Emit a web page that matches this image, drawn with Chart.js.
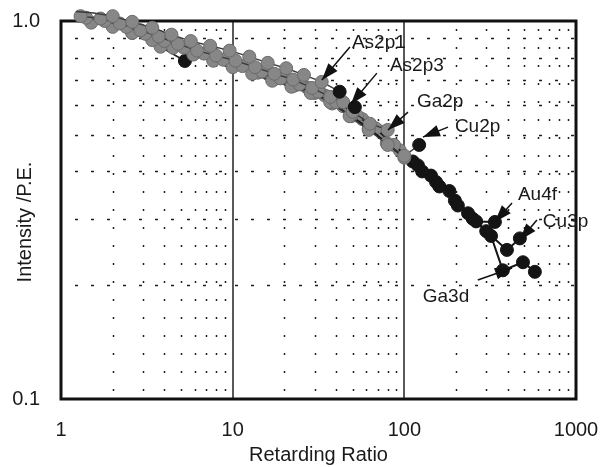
<!DOCTYPE html>
<html>
<head>
<meta charset="utf-8">
<style>
html,body{margin:0;padding:0;background:#fff;}
#wrap{width:611px;height:467px;position:relative;}
</style>
<script src="https://cdn.jsdelivr.net/npm/chart.js@4.4.0/dist/chart.umd.min.js"></script>
</head>
<body>
<div id="wrap"><canvas id="c" width="611" height="467"></canvas></div>
<script>
// ---- axis ticks ----
const xTickValues = [1, 10, 100, 1000];
const xTickText = ['1', '10', '100', '1000'];
const yTickValues = [0.1, 1.0];
const yTickText = ['0.1', '1.0'];
const xMajorGrid = [10, 100];
const xMinorGrid = [2,3,4,5,6,7,8,9,20,30,40,50,60,70,80,90,200,300,400,500,600,700,800,900];
const yMinorGrid = [0.2,0.3,0.4,0.5,0.6,0.7,0.8,0.9];
const xTitle = 'Retarding Ratio';
const yTitle = 'Intensity /P.E.';

// ---- series (retarding ratio, intensity / P.E.) ----
const as2p1X = [1.22, 1.55, 2.0, 2.6, 3.4, 4.4, 5.7, 7.4, 9.6, 12.5, 16, 20.5, 26, 33, 42];
const as2p1Y = [1.06, 1.05, 1.03, 0.995, 0.96, 0.92, 0.885, 0.86, 0.835, 0.805, 0.775, 0.75, 0.72, 0.69, 0.65];

const as2p3X = [1.3, 1.7, 2.2, 2.9, 3.7, 4.8, 6.2, 8.0, 10.4, 13.5, 17.5, 22.5, 29, 37, 44, 51.5];
const as2p3Y = [1.03, 1.015, 0.985, 0.945, 0.91, 0.87, 0.835, 0.81, 0.785, 0.755, 0.725, 0.70, 0.665, 0.63, 0.61, 0.592];

const ga2pX = [1.4, 1.8, 2.4, 3.1, 4.0, 5.2, 6.8, 8.8, 11.4, 14.8, 19, 24.5, 31.5, 40, 50, 63, 80];
const ga2pY = [1.02, 1.0, 0.965, 0.925, 0.885, 0.85, 0.82, 0.79, 0.76, 0.735, 0.705, 0.68, 0.65, 0.61, 0.575, 0.535, 0.515];

const cu2pX = [1.5, 2.0, 2.6, 3.4, 4.5, 5.9, 7.7, 10, 13, 17, 22, 28.5, 37, 48, 62, 80, 100, 122];
const cu2pY = [0.99, 0.965, 0.93, 0.89, 0.85, 0.815, 0.785, 0.755, 0.725, 0.695, 0.67, 0.645, 0.61, 0.56, 0.515, 0.47, 0.44, 0.47];

const branchX = [2.6, 3.8, 5.27];
const branchY = [0.93, 0.855, 0.784];

const au4fX = [14, 18, 23, 30, 38, 49, 62, 79, 100, 127, 160, 205, 262, 337];
const au4fY = [0.73, 0.705, 0.675, 0.645, 0.605, 0.56, 0.52, 0.475, 0.435, 0.40, 0.365, 0.325, 0.295, 0.294];

const cu3pX = [15, 19.5, 25, 32, 41, 53, 68, 87, 112, 143, 183, 235, 300, 396, 471];
const cu3pY = [0.735, 0.71, 0.68, 0.65, 0.61, 0.562, 0.52, 0.47, 0.425, 0.39, 0.355, 0.31, 0.278, 0.248, 0.266];

const ga3dX = [16, 21, 27, 34.5, 44, 57, 73, 94, 120, 153, 197, 250, 320, 375, 491, 576];
const ga3dY = [0.725, 0.698, 0.668, 0.635, 0.595, 0.55, 0.51, 0.455, 0.415, 0.375, 0.335, 0.30, 0.27, 0.219, 0.23, 0.217];

// ---- annotations: label text, text anchor, arrow start, arrow tip (data coords) ----
const annText  = ['As2p1', 'As2p3', 'Ga2p', 'Cu2p', 'Au4f', 'Cu3p', 'Ga3d'];
const annTextX = [49.5, 82.4, 118.4, 197, 459, 641, 128];
const annTextY = [0.875, 0.760, 0.610, 0.524, 0.347, 0.294, 0.186];
const annFromX = [48.2, 69.2, 105, 179.6, 424, 592, 268];
const annFromY = [0.853, 0.728, 0.574, 0.524, 0.330, 0.2975, 0.2065];
const annTipX  = [33.1, 48.9, 80.3, 128.3, 337, 471, 424];
const annTipY  = [0.698, 0.603, 0.515, 0.493, 0.294, 0.263, 0.222];

const FONT = "'Liberation Sans', Arial, Helvetica, sans-serif";
const GRAY = '#878787', GRAY_B = '#6b6b6b', DARK = '#141414';

function pts(xs, ys) { return xs.map((x, i) => ({x: x, y: ys[i]})); }
function colorsByX(xs, lastDark) {
  return xs.map((x, i) => (x >= 110 || (lastDark && i === xs.length - 1)) ? DARK : GRAY);
}
function mk(label, xs, ys, lastDark, lineColor, lw) {
  const c = colorsByX(xs, lastDark);
  return {
    label: label,
    data: pts(xs, ys),
    borderColor: lineColor,
    borderWidth: lw,
    pointRadius: 6.5,
    pointBackgroundColor: c,
    pointBorderColor: c.map(v => v === DARK ? DARK : GRAY_B),
    pointBorderWidth: 1,
    tension: 0,
    clip: false,
    fill: false
  };
}

const datasets = [
  mk('As2p1', as2p1X, as2p1Y, true, '#3a3a3a', 1.4),
  mk('As2p3', as2p3X, as2p3Y, true, '#3a3a3a', 1.4),
  mk('Ga2p', ga2pX, ga2pY, false, '#3a3a3a', 1.4),
  mk('Cu2p', cu2pX, cu2pY, false, '#3a3a3a', 1.4),
  mk('', branchX, branchY, true, '#222', 1.6),
  mk('Au4f', au4fX, au4fY, false, '#151515', 2),
  mk('Cu3p', cu3pX, cu3pY, false, '#151515', 2),
  mk('Ga3d', ga3dX, ga3dY, false, '#151515', 2)
];

const gridPlugin = {
  id: 'gridPlugin',
  beforeDatasetsDraw(chart) {
    const {ctx, chartArea: {left, right, top, bottom}, scales: {x, y}} = chart;
    ctx.save();
    ctx.strokeStyle = '#1e1e1e';
    ctx.lineWidth = 1.5;
    ctx.setLineDash([2, 16]);
    xMinorGrid.forEach(v => {
      const px = Math.round(x.getPixelForValue(v)) + 0.5;
      ctx.beginPath(); ctx.moveTo(px, top + 8); ctx.lineTo(px, bottom); ctx.stroke();
    });
    ctx.setLineDash([3, 13]);
    yMinorGrid.forEach(v => {
      const py = Math.round(y.getPixelForValue(v)) + 0.5;
      ctx.beginPath(); ctx.moveTo(left + 14, py); ctx.lineTo(right, py); ctx.stroke();
    });
    ctx.setLineDash([]);
    ctx.strokeStyle = '#222';
    ctx.lineWidth = 1.5;
    xMajorGrid.forEach(v => {
      const px = Math.round(x.getPixelForValue(v));
      ctx.beginPath(); ctx.moveTo(px, top); ctx.lineTo(px, bottom); ctx.stroke();
    });
    ctx.strokeStyle = '#111';
    ctx.lineWidth = 3;
    ctx.strokeRect(left, top, right - left, bottom - top);
    ctx.restore();
  }
};

const annotationPlugin = {
  id: 'annotationPlugin',
  afterDatasetsDraw(chart) {
    const {ctx, scales: {x, y}, chartArea} = chart;
    ctx.save();
    ctx.strokeStyle = '#111';
    ctx.fillStyle = '#111';
    ctx.lineWidth = 1.5;
    annText.forEach((t, i) => {
      const fx = x.getPixelForValue(annFromX[i]), fy = y.getPixelForValue(annFromY[i]);
      const tx = x.getPixelForValue(annTipX[i]), ty = y.getPixelForValue(annTipY[i]);
      ctx.beginPath(); ctx.moveTo(fx, fy); ctx.lineTo(tx, ty); ctx.stroke();
      const ang = Math.atan2(ty - fy, tx - fx);
      const L = 17, W = 6;
      const bx = tx - L * Math.cos(ang), by = ty - L * Math.sin(ang);
      ctx.beginPath();
      ctx.moveTo(tx, ty);
      ctx.lineTo(bx + W * Math.sin(ang), by - W * Math.cos(ang));
      ctx.lineTo(bx - W * Math.sin(ang), by + W * Math.cos(ang));
      ctx.closePath(); ctx.fill();
      ctx.font = '19px ' + FONT;
      ctx.textAlign = 'left';
      ctx.textBaseline = 'middle';
      ctx.fillStyle = '#1a1a1a';
      ctx.fillText(t, x.getPixelForValue(annTextX[i]), y.getPixelForValue(annTextY[i]));
      ctx.fillStyle = '#111';
    });
    // y axis title
    ctx.save();
    ctx.translate(25, (chartArea.top + chartArea.bottom) / 2 + 12);
    ctx.rotate(-Math.PI / 2);
    ctx.font = '20px ' + FONT;
    ctx.textAlign = 'center';
    ctx.textBaseline = 'middle';
    ctx.fillStyle = '#1a1a1a';
    ctx.fillText(yTitle, 0, 0);
    ctx.restore();
    ctx.restore();
  }
};

new Chart(document.getElementById('c').getContext('2d'), {
  type: 'line',
  data: {datasets: datasets},
  options: {
    responsive: false,
    animation: false,
    layout: {padding: {left: 0, right: 35, top: 21, bottom: 0}},
    plugins: {legend: {display: false}, tooltip: {enabled: false}},
    scales: {
      x: {
        type: 'logarithmic', min: 1, max: 1000,
        afterBuildTicks: s => { s.ticks = xTickValues.map(v => ({value: v})); },
        ticks: {
          callback: v => xTickText[xTickValues.indexOf(v)],
          font: {family: FONT, size: 20}, color: '#1a1a1a',
          padding: 19, maxRotation: 0, autoSkip: false
        },
        grid: {display: false, drawTicks: false, tickLength: 0},
        border: {display: false},
        title: {display: true, text: xTitle, font: {family: FONT, size: 20}, color: '#1a1a1a', padding: {top: 0, bottom: 0}},
        afterFit: s => { s.height = 68; s.paddingLeft = 0; s.paddingRight = 0; }
      },
      y: {
        type: 'logarithmic', min: 0.1, max: 1.0,
        afterBuildTicks: s => { s.ticks = yTickValues.map(v => ({value: v})); },
        ticks: {
          callback: v => yTickText[yTickValues.indexOf(v)],
          font: {family: FONT, size: 20}, color: '#1a1a1a',
          padding: 21, autoSkip: false
        },
        grid: {display: false, drawTicks: false, tickLength: 0},
        border: {display: false},
        afterFit: s => { s.width = 61; s.paddingTop = 0; s.paddingBottom = 0; }
      }
    }
  },
  plugins: [gridPlugin, annotationPlugin]
});
</script>
</body>
</html>
